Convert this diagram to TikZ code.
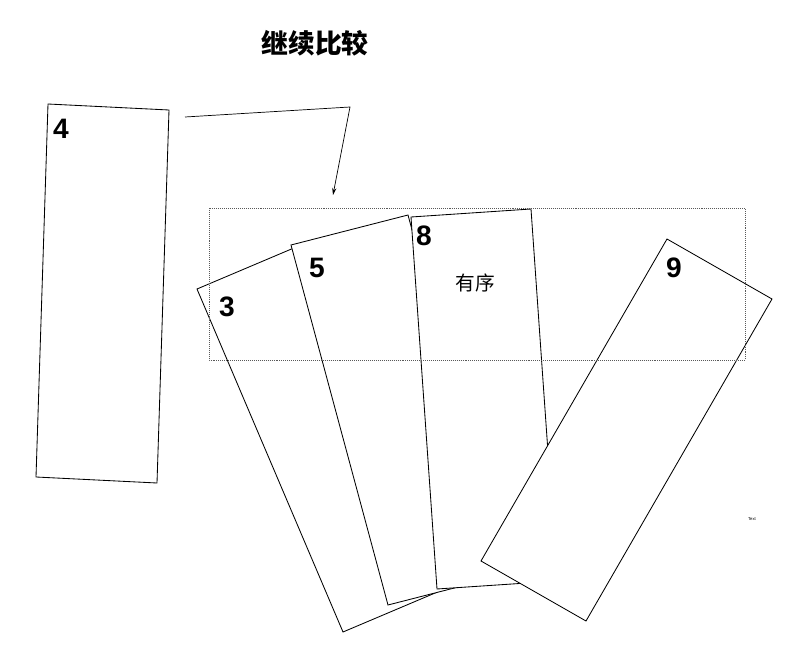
\documentclass[tikz,border=0pt]{standalone}
\usepackage{fontspec}
\setmainfont{Liberation Sans}
\newfontfamily\cjk{Noto Sans CJK SC}
\usetikzlibrary{arrows.meta}

\begin{document}
\begin{tikzpicture}[
    x=0.025cm, y=-0.025cm,
    card/.style={draw=black, fill=white, line width=0.6pt},
    digit/.style={font=\fontsize{20}{22}\selectfont\bfseries},
    arrow/.style={-{Stealth[length=5pt,width=3pt]}, line width=0.5pt},
]
\useasboundingbox (0,0) rectangle (785,651);

% Title
\node[font=\cjk\fontsize{19}{21}\selectfont\bfseries] (title) at (315,43) {继续比较};

% Single card on the left
\draw[card] (48,104) -- (169,110) -- (157,483) -- (36,477) -- cycle;
\node[digit] (n4) at (61,129) {4};

% Fanned cards
\draw[card] (197,289) -- (308,242) -- (454,585) -- (343,632) -- cycle;
\node[digit] (n3) at (227,307) {3};
\draw[card] (291,245) -- (408,215) -- (505,575) -- (388,605) -- cycle;
\node[digit] (n5) at (317,268) {5};
\draw[card] (411,217) -- (531,209) -- (557,581) -- (437,589) -- cycle;
\node[digit] (n8) at (424,236) {8};
\node[font=\cjk\fontsize{14}{16}\selectfont] (ordered) at (475,283) {有序};
\draw[card] (667,239) -- (772,299) -- (586,621) -- (481,561) -- cycle;
\node[digit] (n9) at (674,268) {9};

% Sorted region
\draw[densely dotted, line width=0.4pt, gray!70!black] (209,208) rectangle (745,360);

% Insert arrow
\coordinate (from) at (185,117);
\coordinate (bend) at (350,107);
\coordinate (to) at (333,195);
\draw[arrow] (from) -- (bend) -- (to);

\node[font=\fontsize{3}{3}\selectfont] (txt) at (752,519) {Text};
\end{tikzpicture}
\end{document}
